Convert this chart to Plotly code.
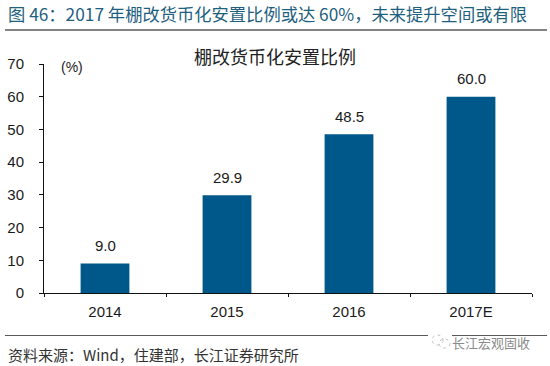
import plotly.graph_objects as go

categories = ["2014", "2015", "2016", "2017E"]
values = [9.0, 29.9, 48.5, 60.0]
value_labels = ["9.0", "29.9", "48.5", "60.0"]
y_ticks = [0, 10, 20, 30, 40, 50, 60, 70]

W, H = 550, 366
L, R, T, B = 44, 532, 64, 293
FONT = "Liberation Sans, Noto Sans CJK SC, Arial, sans-serif"
CJK = "Noto Sans CJK SC, Liberation Sans, sans-serif"


def px(x):
    return (x - L) / (R - L)


def py(y):
    return (B - y) / (B - T)


def note(x, y, text, size, color, anchor="left", font=CJK):
    return dict(
        x=px(x), y=py(y), xref="paper", yref="paper", text=text, showarrow=False,
        xanchor=anchor, yanchor="middle", align=anchor,
        font=dict(family=font, size=size, color=color),
    )


def rule(x0, x1, y, color, width):
    return dict(
        type="line", xref="paper", yref="paper", x0=px(x0), x1=px(x1), y0=py(y), y1=py(y),
        line=dict(color=color, width=width),
    )


def bubble(x0, y0, x1, y1):
    return dict(
        type="circle", xref="paper", yref="paper", x0=px(x0), x1=px(x1), y0=py(y0), y1=py(y1),
        line=dict(color="#c4c4c4", width=1, dash="dot"),
    )


value_notes = [
    dict(x=i, y=v, xref="x", yref="y", text=t, showarrow=False, yanchor="middle", yshift=18,
         font=dict(family=FONT, size=15, color="#1a1a1a"))
    for i, (v, t) in enumerate(zip(values, value_labels))
]

fig = go.Figure(
    go.Bar(x=categories, y=values, width=0.4, marker=dict(color="#00578A", line=dict(width=0)))
)
fig.update_layout(
    width=W, height=H, autosize=False, paper_bgcolor="white", plot_bgcolor="white",
    showlegend=False, margin=dict(l=L, r=W - R, t=T, b=H - B, autoexpand=False),
    font=dict(family=FONT, size=15, color="#1a1a1a"),
    annotations=value_notes + [
        note(6, 13, "图 46：2017 年棚改货币化安置比例或达 60%，未来提升空间或有限", 17.3, "#1F5F7F"),
        note(275, 56, "棚改货币化安置比例", 18, "#222222", "center"),
        note(59, 67, "(%)", 14, "#222222", font=FONT),
        note(6, 354, "资料来源：Wind，住建部，长江证券研究所", 15, "#333333"),
        note(532, 342, "长江宏观固收", 13, "#8a8a8a", "right"),
    ],
    shapes=[
        rule(5, 547, 30, "#5a5a5a", 1.5),
        rule(5, 428, 335.5, "#5a5a5a", 1.2),
        rule(452, 547, 335.5, "#5a5a5a", 1.2),
        bubble(432, 335, 443, 345),
        bubble(439, 339, 450, 348),
    ],
)
fig.update_xaxes(
    type="category", range=[-0.5, 3.5], showgrid=False, showline=True, linecolor="#111111",
    linewidth=1, ticks="outside", ticklen=3, tickcolor="#111111", tickson="boundaries",
    ticklabelstandoff=5, tickangle=0, tickfont=dict(family=FONT, size=15, color="#1a1a1a"),
)
fig.update_yaxes(
    range=[0, 70], tickvals=y_ticks, showgrid=False, zeroline=False, showline=True,
    linecolor="#111111", linewidth=1, ticks="outside", ticklen=4, tickcolor="#111111",
    ticklabelstandoff=12, tickfont=dict(family=FONT, size=15, color="#1a1a1a"),
)
fig.write_html(
    "out.html",
    config={"displayModeBar": False},
    post_script="document.body.style.margin='0';document.documentElement.style.overflow='hidden';",
)
